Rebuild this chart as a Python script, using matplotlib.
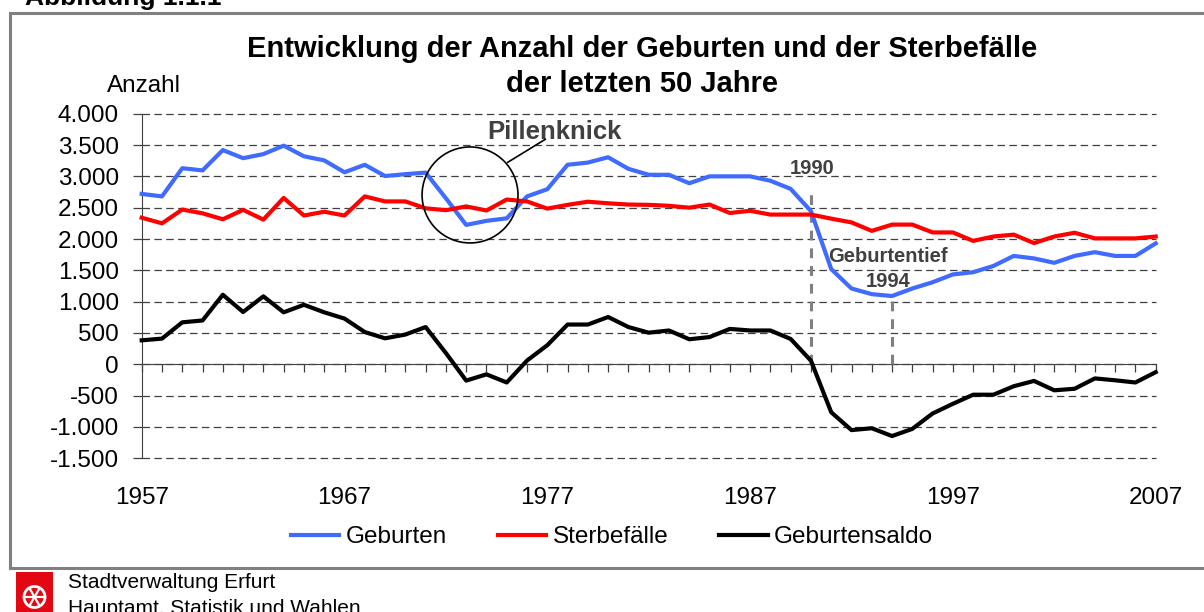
import matplotlib
matplotlib.use("Agg")
import matplotlib.pyplot as plt
from matplotlib.lines import Line2D
from matplotlib.patches import Ellipse, Rectangle
from matplotlib.ticker import FuncFormatter

plt.rcParams['font.family'] = ['Liberation Sans', 'DejaVu Sans']

# Daten
jahre = list(range(1957, 2008))
geburten = [2720, 2680, 3130, 3095, 3420, 3290, 3355, 3490, 3320, 3255,
            3065, 3185, 3005, 3035, 3060, 2650, 2225, 2290, 2330, 2680,
            2795, 3185, 3220, 3305, 3120, 3025, 3025, 2890, 3000, 3000,
            3000, 2930, 2800, 2445, 1520, 1210, 1120, 1090, 1210, 1310,
            1435, 1470, 1570, 1730, 1690, 1620, 1730, 1790, 1730, 1730, 1930]
sterbefaelle = [2340, 2250, 2470, 2410, 2315, 2465, 2310, 2655, 2375, 2435,
                2375, 2680, 2600, 2600, 2490, 2460, 2520, 2455, 2630, 2600,
                2485, 2545, 2595, 2570, 2550, 2545, 2530, 2500, 2550, 2415,
                2450, 2390, 2390, 2390, 2325, 2265, 2130, 2230, 2230, 2105,
                2105, 1970, 2040, 2070, 1935, 2040, 2100, 2010, 2010, 2010, 2040]
saldo = [383, 410, 670, 700, 1110, 835, 1085, 830, 950, 830,
         730, 515, 415, 475, 595, 180, -260, -160, -290, 60,
         305, 635, 635, 755, 595, 505, 540, 400, 435, 565,
         540, 540, 405, 58, -765, -1050, -1020, -1145, -1030, -785,
         -630, -485, -485, -350, -265, -415, -390, -225, -255, -290, -125]
label_jahre = [1957, 1967, 1977, 1987, 1997, 2007]
y_ticks = list(range(-1500, 4001, 500))

W, H = 1204, 612
fig = plt.figure(figsize=(W / 100, H / 100), dpi=100)


def fx(px):
    return px / W


def fy(py):
    return 1 - py / H


ax = fig.add_axes([fx(141.7), fy(458.3), fx(1155.7) - fx(141.7), (458.3 - 113.7) / H])

blau = '#3F6BFF'
rot = '#FF0000'
ax.plot(jahre, geburten, color=blau, lw=3, solid_joinstyle='round', clip_on=False, zorder=4, label='Geburten')
ax.plot(jahre, sterbefaelle, color=rot, lw=3, solid_joinstyle='round', clip_on=False, zorder=4, label='Sterbefälle')
ax.plot(jahre, saldo, color='black', lw=3, solid_joinstyle='round', clip_on=False, zorder=4, label='Geburtensaldo')

ax.set_xlim(1957, 2007)
ax.set_ylim(-1500, 4000)
ax.set_yticks(y_ticks)
ax.yaxis.set_major_formatter(FuncFormatter(lambda v, p: f"{int(v):,}".replace(',', '.')))
ax.tick_params(axis='y', direction='out', length=6.3, width=0.9, color='#404040',
               labelsize=17.5, pad=10)
ax.yaxis.grid(True, linestyle=(0, (6, 3.5)), color='#404040', lw=0.9)
for gl in ax.get_ygridlines():
    gl.set_clip_on(False)
ax.set_axisbelow(True)

ax.spines['top'].set_visible(False)
ax.spines['right'].set_visible(False)
ax.spines['left'].set_color('#404040')
ax.spines['bottom'].set_color('#404040')
ax.spines['bottom'].set_position(('data', 0))
ax.set_xticks(jahre)
ax.tick_params(axis='x', direction='out', length=6, width=0.9, color='#404040', labelbottom=False)

sec = ax.secondary_xaxis(0.0)
sec.set_xticks(label_jahre)
sec.tick_params(length=0, pad=21, labelsize=17.5)
sec.spines['bottom'].set_visible(False)

# Markierungen
ax.plot([1990, 1990], [0, 2780], color='#808080', lw=2.2, ls=(0, (3.2, 2.6)), zorder=3)
ax.plot([1994, 1994], [0, geburten[jahre.index(1994)]], color='#808080', lw=2.2, ls=(0, (3.2, 2.6)), zorder=3)
ax.text(1990.05, 3038, '1990', ha='center', va='baseline', fontsize=14.5, fontweight='bold', color='#404040')
ax.text(1993.8, 1633, 'Geburtentief', ha='center', va='baseline', fontsize=14.5, fontweight='bold', color='#404040')
ax.text(1993.8, 1234, '1994', ha='center', va='baseline', fontsize=14.5, fontweight='bold', color='#404040')

ax.add_patch(Ellipse((1973.19, 2703), 4.73, 1532, fill=False, ec='black', lw=1.2, zorder=5))
ax.plot([1975.05, 1976.9], [3224, 3591], color='black', lw=1.2, zorder=5)
ax.text(1977.35, 3592, 'Pillenknick', ha='center', va='baseline', fontsize=18.5, fontweight='bold', color='#404040')

# Titel
fig.text(fx(642), fy(57), 'Entwicklung der Anzahl der Geburten und der Sterbefälle',
         ha='center', va='baseline', fontsize=21, fontweight='bold')
fig.text(fx(642), fy(92), 'der letzten 50 Jahre', ha='center', va='baseline', fontsize=21, fontweight='bold')
fig.text(fx(107), fy(92), 'Anzahl', ha='left', va='baseline', fontsize=17.5)
fig.text(fx(25), fy(5), 'Abbildung 1.1.1', ha='left', va='baseline', fontsize=19, fontweight='bold')

# Legende
fig.legend(loc='center', bbox_to_anchor=(fx(612), fy(537)), ncol=3, frameon=False, fontsize=17.5,
           handlelength=2.0, handletextpad=0.25, columnspacing=2.1)

# Rahmen
grau = '#808080'
fig.add_artist(Line2D([fx(10), fx(10)], [fy(12.7), fy(568)], color=grau, lw=2.2))
fig.add_artist(Line2D([fx(10), fx(1210)], [fy(12.7), fy(12.7)], color=grau, lw=2.2))
fig.add_artist(Line2D([fx(10), fx(1210)], [fy(568), fy(568)], color=grau, lw=2.2))

# Fusszeile mit Logo
fig.add_artist(Rectangle((fx(16), fy(620)), fx(37), 48 / H, color='#E30613', lw=0))
fig.add_artist(Ellipse((fx(34.5), fy(597)), 21 / W, 21 / H, fill=False, ec='white', lw=2))
for dx, dy in [(10, 0), (5, 8.7), (-5, 8.7)]:
    fig.add_artist(Line2D([fx(34.5 - dx), fx(34.5 + dx)], [fy(597 - dy), fy(597 + dy)], color='white', lw=1.6))
fig.text(fx(68), fy(588), 'Stadtverwaltung Erfurt', ha='left', va='baseline', fontsize=15)
fig.text(fx(68), fy(614), 'Hauptamt, Statistik und Wahlen', ha='left', va='baseline', fontsize=15)

fig.savefig('out.png', dpi=100)
